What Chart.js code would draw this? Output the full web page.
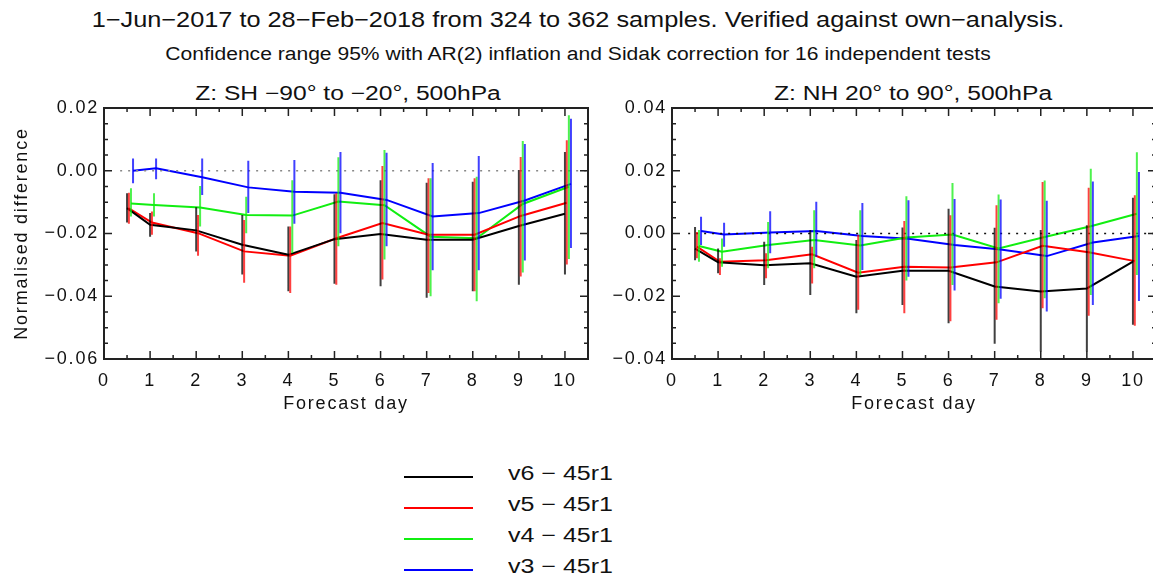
<!DOCTYPE html>
<html>
<head>
<meta charset="utf-8">
<script src="https://cdn.jsdelivr.net/npm/chart.js"></script>
<style>
body { margin: 0; width: 1153px; height: 578px; overflow: hidden; background: #fff; position: relative;
       font-family: "Liberation Sans", Arial, sans-serif; color: #111; }
.txt { position: absolute; white-space: nowrap; line-height: 1; }
.box { position: absolute; top: 78px; height: 340px; width: 600px; }
.key { position: absolute; height: 0; width: 69px; left: 404px; border-top: 2px solid #000; }
.lab { position: absolute; left: 508px; font-size: 20px; line-height: 1; white-space: nowrap;
       transform: scaleX(1.25); transform-origin: 0 0; }
</style>
</head>
<body>
<div class="txt" style="left:578px;top:9px;font-size:22px;transform:translateX(-50%) scaleX(1.15)">1−Jun−2017 to 28−Feb−2018 from 324 to 362 samples. Verified against own−analysis.</div>
<div class="txt" style="left:578px;top:45px;font-size:18px;transform:translateX(-50%) scaleX(1.17)">Confidence range 95% with AR(2) inflation and Sidak correction for 16 independent tests</div>
<div class="txt" style="left:348px;top:83px;font-size:20px;transform:translateX(-50%) scaleX(1.23)">Z: SH −90° to −20°, 500hPa</div>
<div class="txt" style="left:913px;top:83px;font-size:20px;transform:translateX(-50%) scaleX(1.23)">Z: NH 20° to 90°, 500hPa</div>
<div class="box" style="left:0"><canvas id="sh"></canvas></div>
<div class="box" style="left:600px"><canvas id="nh"></canvas></div>
<div id="legend"></div>
<script>
var days = [0.5, 1, 2, 3, 4, 5, 6, 7, 8, 9, 10];
var versions = ['v6 − 45r1', 'v5 − 45r1', 'v4 − 45r1', 'v3 − 45r1'];
var colours = ['#000000', '#ff0000', '#11ee11', '#0000ff'];
var offsets = [0, 0.04, 0.085, 0.13];

// SH 500hPa
var shV6 = [-0.0119, -0.0172, -0.019, -0.0236, -0.0268, -0.0218, -0.0202, -0.022, -0.022, -0.0176, -0.0137];
var shV5 = [-0.012, -0.0165, -0.0199, -0.0257, -0.0271, -0.0215, -0.0167, -0.0204, -0.0204, -0.0144, -0.0102];
var shV4 = [-0.0104, -0.0109, -0.0117, -0.0141, -0.0143, -0.0098, -0.011, -0.021, -0.0215, -0.0106, -0.0051];
var shV3 = [0.0, 0.0008, -0.0021, -0.0053, -0.0067, -0.007, -0.0093, -0.0146, -0.0135, -0.0095, -0.0042];
var shV6Hi = [-0.0072, -0.0135, -0.0116, -0.0141, -0.0178, -0.0075, -0.003, -0.0038, -0.0035, 0.0002, 0.006];
var shV6Lo = [-0.0165, -0.021, -0.0257, -0.0331, -0.0384, -0.036, -0.0368, -0.0405, -0.0384, -0.0363, -0.0331];
var shV5Hi = [-0.007, -0.013, -0.0141, -0.0157, -0.0178, -0.0072, 0.0015, -0.0024, -0.0024, 0.0044, 0.0097];
var shV5Lo = [-0.0169, -0.0204, -0.0271, -0.0357, -0.039, -0.0363, -0.0347, -0.039, -0.0384, -0.0337, -0.0299];
var shV4Hi = [-0.0056, -0.0072, -0.0049, -0.0083, -0.003, 0.0043, 0.0066, -0.0024, -0.0019, 0.0095, 0.0177];
var shV4Lo = [-0.0146, -0.0146, -0.0178, -0.0199, -0.0262, -0.0241, -0.0283, -0.04, -0.0416, -0.0324, -0.0281];
var shV3Hi = [0.0039, 0.0039, 0.0039, 0.0032, 0.0034, 0.006, 0.0057, 0.0025, 0.0047, 0.0085, 0.0166];
var shV3Lo = [-0.004, -0.0027, -0.0077, -0.0135, -0.0169, -0.0199, -0.0241, -0.0317, -0.0317, -0.0286, -0.0246];

// NH 500hPa
var nhV6 = [-0.0048, -0.0092, -0.0101, -0.0095, -0.0138, -0.0119, -0.0119, -0.0169, -0.0185, -0.0175, -0.009];
var nhV5 = [-0.0042, -0.009, -0.0085, -0.0066, -0.0125, -0.0106, -0.0108, -0.0092, -0.0039, -0.006, -0.0088];
var nhV4 = [-0.004, -0.0058, -0.0037, -0.0021, -0.0038, -0.0013, -0.0003, -0.0048, -0.0011, 0.0023, 0.0063];
var nhV3 = [0.0008, -0.0003, 0.0003, 0.0008, -0.0008, -0.0017, -0.0037, -0.0051, -0.0072, -0.0029, -0.0008];
var nhV6Hi = [0.0021, -0.0048, -0.0026, 0.0011, -0.0021, 0.0019, 0.0079, 0.0018, 0.0011, 0.0026, 0.0114];
var nhV6Lo = [-0.0085, -0.0127, -0.0164, -0.0196, -0.0254, -0.0228, -0.0286, -0.0351, -0.0376, -0.0376, -0.0291];
var nhV5Hi = [0.0005, -0.0079, -0.0063, -0.0042, -0.0005, 0.004, 0.0058, 0.009, 0.0164, 0.0146, 0.0122];
var nhV5Lo = [-0.0079, -0.0132, -0.0143, -0.0159, -0.0243, -0.0254, -0.028, -0.0275, -0.0238, -0.0262, -0.0294];
var nhV4Hi = [0.0011, -0.0016, 0.0037, 0.0074, 0.0074, 0.0119, 0.0161, 0.0124, 0.0169, 0.0206, 0.0259];
var nhV4Lo = [-0.009, -0.0106, -0.0111, -0.0111, -0.0132, -0.015, -0.0164, -0.0222, -0.0206, -0.0196, -0.0132];
var nhV3Hi = [0.0053, 0.0034, 0.0071, 0.0101, 0.0097, 0.0106, 0.011, 0.0108, 0.0104, 0.0166, 0.0196];
var nhV3Lo = [-0.0037, -0.0042, -0.0063, -0.0074, -0.0116, -0.0138, -0.0182, -0.0208, -0.0249, -0.0228, -0.0215];

var tickFont = { family: 'Liberation Sans', size: 18 };

function isMajor(v, step) {
    return Math.abs(v / step - Math.round(v / step)) < 1e-6;
}

// the reference lettering is wide, so space the canvas text out a little
var wideText = {
    id: 'wideText',
    beforeUpdate: function(chart) { chart.ctx.letterSpacing = '1.8px'; },
    beforeDraw: function(chart) { chart.ctx.letterSpacing = '1.8px'; }
};

// error bars + IDL style box with inward ticks
var idlAxes = {
    id: 'idlAxes',
    afterDatasetsDraw: function(chart, args, opts) {
        var ctx = chart.ctx, a = chart.chartArea;
        var xs = chart.scales.x, ys = chart.scales.y;
        ctx.save();
        ctx.lineWidth = 2;
        ctx.globalAlpha = 0.75;
        opts.bars.forEach(function(b, i) {
            ctx.strokeStyle = colours[i];
            ctx.beginPath();
            days.forEach(function(d, j) {
                var x = xs.getPixelForValue(d + offsets[i]);
                ctx.moveTo(x, ys.getPixelForValue(b[0][j]));
                ctx.lineTo(x, ys.getPixelForValue(b[1][j]));
            });
            ctx.stroke();
        });
        ctx.globalAlpha = 1;
        ctx.strokeStyle = '#222';
        ctx.lineWidth = 1.5;
        ctx.beginPath();
        xs.ticks.forEach(function(t) {
            var x = xs.getPixelForValue(t.value), L = isMajor(t.value, 1) ? 8 : 4;
            ctx.moveTo(x, a.bottom); ctx.lineTo(x, a.bottom - L);
            ctx.moveTo(x, a.top); ctx.lineTo(x, a.top + L);
        });
        ys.ticks.forEach(function(t) {
            var y = ys.getPixelForValue(t.value), L = isMajor(t.value, 0.02) ? 8 : 4;
            ctx.moveTo(a.left, y); ctx.lineTo(a.left + L, y);
            ctx.moveTo(a.right, y); ctx.lineTo(a.right - L, y);
        });
        ctx.stroke();
        ctx.lineWidth = 2;
        ctx.strokeRect(a.left, a.top, a.right - a.left, a.bottom - a.top);
        ctx.restore();
    }
};

function makeChart(id, series, bars, ymin, ymax, yWidth, padRight, yTitle, zeroColour) {
    var datasets = [{
        data: [{ x: 0.35, y: 0 }, { x: 10.5, y: 0 }],
        borderColor: zeroColour, borderWidth: 1.5, borderDash: [2, 6],
        pointRadius: 0, showLine: true
    }];
    series.forEach(function(vals, i) {
        datasets.push({
            data: days.map(function(d, j) { return { x: d + offsets[i], y: vals[j] }; }),
            borderColor: colours[i], borderWidth: 2, pointRadius: 0, showLine: true
        });
    });
    return new Chart(document.getElementById(id), {
        type: 'scatter',
        data: { datasets: datasets },
        plugins: [wideText, idlAxes],
        options: {
            responsive: true,
            maintainAspectRatio: false,
            animation: false,
            layout: { padding: { top: 30, right: padRight, left: 0, bottom: 0 } },
            plugins: {
                legend: { display: false },
                tooltip: { enabled: false },
                idlAxes: { bars: bars }
            },
            scales: {
                x: {
                    type: 'linear', min: 0, max: 10.5,
                    grid: { display: false, drawTicks: false },
                    border: { display: false },
                    ticks: {
                        stepSize: 0.5, autoSkip: false, maxRotation: 0, padding: 11,
                        font: tickFont, color: '#111',
                        callback: function(v) { return isMajor(v, 1) ? String(Math.round(v)) : ''; }
                    },
                    title: { display: true, text: 'Forecast day', font: tickFont, color: '#111', padding: { top: 0, bottom: 3 } },
                    afterFit: function(s) { s.height = 59; s.paddingLeft = 0; s.paddingRight = 0; }
                },
                y: {
                    min: ymin, max: ymax,
                    grid: { display: false, drawTicks: false },
                    border: { display: false },
                    ticks: {
                        stepSize: 0.005, autoSkip: false, padding: 5,
                        font: tickFont, color: '#111',
                        callback: function(v) { return isMajor(v, 0.02) ? v.toFixed(2).replace('-', '−') : ''; }
                    },
                    title: { display: yTitle !== '', text: yTitle, font: tickFont, color: '#111', padding: { top: 11, bottom: 0 } },
                    afterFit: function(s) { s.width = yWidth; s.paddingTop = 0; s.paddingBottom = 0; }
                }
            }
        }
    });
}

makeChart('sh', [shV6, shV5, shV4, shV3],
    [[shV6Hi, shV6Lo], [shV5Hi, shV5Lo], [shV4Hi, shV4Lo], [shV3Hi, shV3Lo]],
    -0.06, 0.02, 104, 12, 'Normalised difference', '#888888');
makeChart('nh', [nhV6, nhV5, nhV4, nhV3],
    [[nhV6Hi, nhV6Lo], [nhV5Hi, nhV5Lo], [nhV4Hi, nhV4Lo], [nhV3Hi, nhV3Lo]],
    -0.04, 0.04, 72, 44, '', '#111111');

// legend below the panels
var legend = document.getElementById('legend');
var rowY = [477, 508, 539, 570];
versions.forEach(function(v, i) {
    var k = document.createElement('div');
    k.className = 'key';
    k.style.top = (rowY[i] - 1) + 'px';
    k.style.borderTopColor = colours[i];
    legend.appendChild(k);
    var t = document.createElement('div');
    t.className = 'lab';
    t.style.top = (rowY[i] - 14) + 'px';
    t.textContent = v;
    legend.appendChild(t);
});
</script>
</body>
</html>
